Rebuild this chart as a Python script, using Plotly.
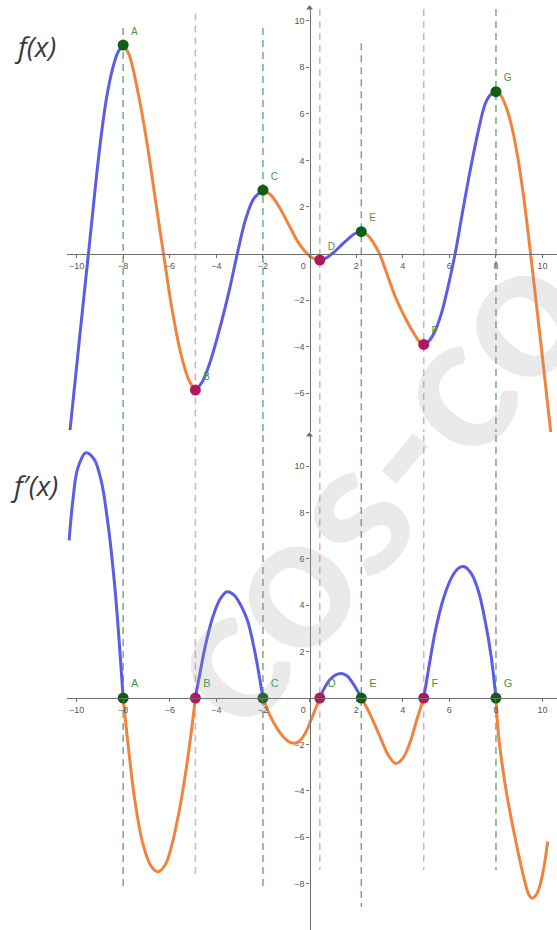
import plotly.graph_objects as go

W, H = 557, 930

# ---------------- data ----------------
# critical points A..G : x position, f(x) value, kind
pt_names = ["A", "B", "C", "D", "E", "F", "G"]
pt_x = [-8.0, -4.9, -2.0, 0.44, 2.22, 4.9, 8.0]
pt_f = [8.95, -5.86, 2.72, -0.28, 0.94, -3.9, 6.95]
pt_kind = ["max", "min", "max", "min", "max", "min", "max"]

# dashed guide lines: top end (f panel units) and bottom end (f' panel units)
vline_top = [9.68, 10.3, 9.68, 10.5, 9.03, 10.5, 10.5]
vline_bot = [-8.28, -7.63, -8.28, -7.41, -9.0, -7.41, -7.41]

# f(x) increasing pieces (blue)
f_up_x = [
    [-10.28, -9.85, -9.49, -9.2, -8.95, -8.7, -8.45, -8.22, -8.0],
    [-4.9, -4.6, -4.25, -3.85, -3.45, -3.1, -2.75, -2.4, -2.0],
    [0.44, 0.7, 1.04, 1.35, 1.65, 1.95, 2.22],
    [4.9, 5.1, 5.35, 5.65, 5.95, 6.25, 6.55, 6.9, 7.25, 7.55, 7.8, 8.0],
]
f_up_y = [
    [-7.58, -3.42, 0.0, 2.8, 5.0, 6.75, 7.95, 8.65, 8.95],
    [-5.86, -5.5, -4.6, -3.2, -1.6, 0.0, 1.45, 2.35, 2.72],
    [-0.28, -0.2, 0.05, 0.35, 0.62, 0.86, 0.94],
    [-3.9, -3.78, -3.4, -2.6, -1.4, 0.0, 1.7, 3.6, 5.3, 6.45, 6.85, 6.95],
]
# f(x) decreasing pieces (orange)
f_dn_x = [
    [-8.0, -7.75, -7.4, -7.0, -6.6, -6.27, -5.9, -5.5, -5.15, -4.9],
    [-2.0, -1.65, -1.3, -0.9, -0.5, -0.2, 0.1, 0.44],
    [2.22, 2.5, 2.75, 3.0, 3.35, 3.7, 4.05, 4.4, 4.65, 4.8, 4.9],
    [8.0, 8.2, 8.45, 8.7, 8.95, 9.2, 9.45, 9.75, 10.05, 10.4],
]
f_dn_y = [
    [8.95, 8.55, 7.1, 4.9, 2.2, 0.0, -2.4, -4.4, -5.5, -5.86],
    [2.72, 2.5, 2.0, 1.25, 0.5, 0.1, -0.17, -0.28],
    [0.94, 0.78, 0.45, 0.0, -0.95, -1.9, -2.65, -3.3, -3.7, -3.86, -3.9],
    [6.95, 6.8, 6.25, 5.35, 4.05, 2.35, 0.3, -2.3, -4.95, -8.1],
]

# f'(x) positive pieces (blue)
d_up_x = [
    [-10.32, -10.15, -9.95, -9.6, -9.25, -8.95, -8.65, -8.35, -8.0],
    [-4.9, -4.7, -4.45, -4.15, -3.85, -3.55, -3.25, -2.95, -2.65, -2.35, -2.0],
    [0.44, 0.65, 0.88, 1.12, 1.38, 1.62, 1.85, 2.05, 2.22],
    [4.9, 5.1, 5.4, 5.75, 6.1, 6.4, 6.65, 6.95, 7.25, 7.55, 7.8, 8.0],
]
d_up_y = [
    [6.8, 8.6, 9.9, 10.57, 10.3, 9.4, 7.5, 4.7, 0.0],
    [0.0, 1.1, 2.35, 3.5, 4.25, 4.58, 4.45, 4.0, 3.3, 2.0, 0.0],
    [0.0, 0.45, 0.8, 1.0, 1.06, 0.95, 0.65, 0.32, 0.0],
    [0.0, 1.2, 2.9, 4.3, 5.2, 5.6, 5.66, 5.35, 4.6, 3.25, 1.75, 0.0],
]
# f'(x) negative pieces (orange)
d_dn_x = [
    [-8.0, -7.8, -7.5, -7.15, -6.8, -6.5, -6.2, -5.9, -5.6, -5.3, -5.1, -4.9],
    [-2.0, -1.7, -1.4, -1.1, -0.8, -0.5, -0.2, 0.1, 0.44],
    [2.22, 2.5, 2.8, 3.1, 3.4, 3.7, 4.0, 4.3, 4.6, 4.9],
    [8.0, 8.1, 8.25, 8.48, 8.9, 9.2, 9.4, 9.55, 9.75, 9.98, 10.22],
]
d_dn_y = [
    [0.0, -1.9, -4.4, -6.3, -7.25, -7.49, -7.2, -6.3, -4.9, -3.1, -1.65, 0.0],
    [0.0, -0.75, -1.3, -1.7, -1.93, -1.9, -1.55, -0.85, 0.0],
    [0.0, -0.5, -1.15, -1.85, -2.5, -2.82, -2.6, -1.95, -0.95, 0.0],
    [0.0, -1.5, -2.75, -4.25, -6.41, -7.75, -8.45, -8.63, -8.45, -7.7, -6.19],
]

x_ticks = [-10, -8, -6, -4, -2, 0, 2, 4, 6, 8, 10]
top_y_ticks = [-6, -4, -2, 2, 4, 6, 8, 10]
bot_y_ticks = [-8, -6, -4, -2, 2, 4, 6, 8, 10]

# ---------------- styling / layout ----------------
BLUE = "#5c5ce6"
ORANGE = "#f0843f"
PT_MAX = "#0f5f12"
PT_MIN = "#b0185f"
DASH_MAX = "#75ad75"
DASH_MIN = "#e2a6d4"
LABEL_GREEN = "#3f9a3f"
AXIS = "#6e6e6e"

X_RANGE = [-10.41, 10.62]
TOP_RANGE = [-7.66, 10.54]
BOT_RANGE = [-10.0, 11.34]
X_DOMAIN = [0.1203, 1.0]
TOP_DOMAIN = [0.5355, 0.9914]
BOT_DOMAIN = [0.0, 0.5323]


def frac(value, rng, dom):
    return dom[0] + (value - rng[0]) / (rng[1] - rng[0]) * (dom[1] - dom[0])


fig = go.Figure()

# dashed guide lines
for i, xv in enumerate(pt_x):
    col = DASH_MAX if pt_kind[i] == "max" else DASH_MIN
    fig.add_trace(go.Scatter(x=[xv, xv], y=[vline_top[i], TOP_RANGE[0]], mode="lines",
                             line=dict(color=col, width=1.5, dash="7px,5px"),
                             xaxis="x", yaxis="y", hoverinfo="skip", showlegend=False))
    fig.add_trace(go.Scatter(x=[xv, xv], y=[BOT_RANGE[1], vline_bot[i]], mode="lines",
                             line=dict(color=col, width=1.5, dash="7px,5px"),
                             xaxis="x2", yaxis="y2", hoverinfo="skip", showlegend=False))


# curves
def add_pieces(xs, ys, color, xa, ya):
    for px, py in zip(xs, ys):
        fig.add_trace(go.Scatter(x=px, y=py, mode="lines",
                                 line=dict(color=color, width=3, shape="spline", smoothing=1.0),
                                 xaxis=xa, yaxis=ya, hoverinfo="skip", showlegend=False))


add_pieces(f_up_x, f_up_y, BLUE, "x", "y")
add_pieces(f_dn_x, f_dn_y, ORANGE, "x", "y")
add_pieces(d_up_x, d_up_y, BLUE, "x2", "y2")
add_pieces(d_dn_x, d_dn_y, ORANGE, "x2", "y2")

# axis arrowheads
fig.add_trace(go.Scatter(x=[0], y=[TOP_RANGE[1]], mode="markers",
                         marker=dict(symbol="triangle-up", size=6, color=AXIS),
                         xaxis="x", yaxis="y", cliponaxis=False, hoverinfo="skip", showlegend=False))
fig.add_trace(go.Scatter(x=[0], y=[BOT_RANGE[1]], mode="markers",
                         marker=dict(symbol="triangle-up", size=6, color=AXIS),
                         xaxis="x2", yaxis="y2", cliponaxis=False, hoverinfo="skip", showlegend=False))

# critical points
pcols = [PT_MAX if k == "max" else PT_MIN for k in pt_kind]
fig.add_trace(go.Scatter(x=pt_x, y=pt_f, mode="markers+text", text=pt_names,
                         textposition="top right",
                         textfont=dict(color=LABEL_GREEN, size=10, family="Liberation Sans"),
                         marker=dict(color=pcols, size=11),
                         xaxis="x", yaxis="y", cliponaxis=False, hoverinfo="skip", showlegend=False))
fig.add_trace(go.Scatter(x=pt_x, y=[0] * len(pt_x), mode="markers+text", text=pt_names,
                         textposition="top right",
                         textfont=dict(color=LABEL_GREEN, size=11, family="Liberation Sans"),
                         marker=dict(color=pcols, size=11),
                         xaxis="x2", yaxis="y2", cliponaxis=False, hoverinfo="skip", showlegend=False))

x_ticktext = [("0\u00a0\u00a0\u00a0\u00a0\u00a0" if v == 0 else str(v).replace("-", "\u2212")) for v in x_ticks]

tickfont = dict(size=9, color="#555555", family="Liberation Sans")
common_x = dict(range=X_RANGE, domain=X_DOMAIN, showgrid=False, zeroline=False,
                showline=True, linecolor=AXIS, linewidth=1.4, ticks="outside", ticklen=3,
                tickcolor=AXIS, tickvals=x_ticks, ticktext=x_ticktext, tickfont=tickfont,
                anchor="free", fixedrange=True)
common_y = dict(showgrid=False, zeroline=False, showline=True, linecolor=AXIS, linewidth=1.4,
                ticks="outside", ticklen=3, tickcolor=AXIS, tickfont=tickfont,
                anchor="free", fixedrange=True)

x0_pos = frac(0, X_RANGE, X_DOMAIN)

fig.update_layout(
    width=W, height=H,
    margin=dict(l=0, r=0, t=0, b=0),
    paper_bgcolor="white", plot_bgcolor="white",
    xaxis=dict(**common_x, position=frac(0, TOP_RANGE, TOP_DOMAIN)),
    yaxis=dict(**common_y, range=TOP_RANGE, domain=TOP_DOMAIN, tickvals=top_y_ticks,
               position=x0_pos),
    xaxis2=dict(**common_x, position=frac(0, BOT_RANGE, BOT_DOMAIN)),
    yaxis2=dict(**common_y, range=BOT_RANGE, domain=BOT_DOMAIN, tickvals=bot_y_ticks,
                position=x0_pos),
    annotations=[
        dict(text="cos-co", x=365 / W, y=1 - 480 / H, xref="paper", yref="paper",
             xanchor="center", yanchor="middle",
             showarrow=False, textangle=-50,
             font=dict(size=190, color="rgba(150,150,150,0.2)", family="Lato", weight=700)),
        dict(text="f(x)", x=35 / W, y=1 - 46 / H, xref="paper", yref="paper", showarrow=False,
             xanchor="center", yanchor="middle",
             font=dict(size=28, color="#3a3a3a", family="Open Sans", style="italic")),
        dict(text="f\u2032(x)", x=34 / W, y=1 - 485 / H, xref="paper", yref="paper", showarrow=False,
             xanchor="center", yanchor="middle",
             font=dict(size=28, color="#3a3a3a", family="Open Sans", style="italic")),
    ],
)

fig.write_html("out.html", config={"displayModeBar": False},
               post_script="document.body.style.margin='0px';")
